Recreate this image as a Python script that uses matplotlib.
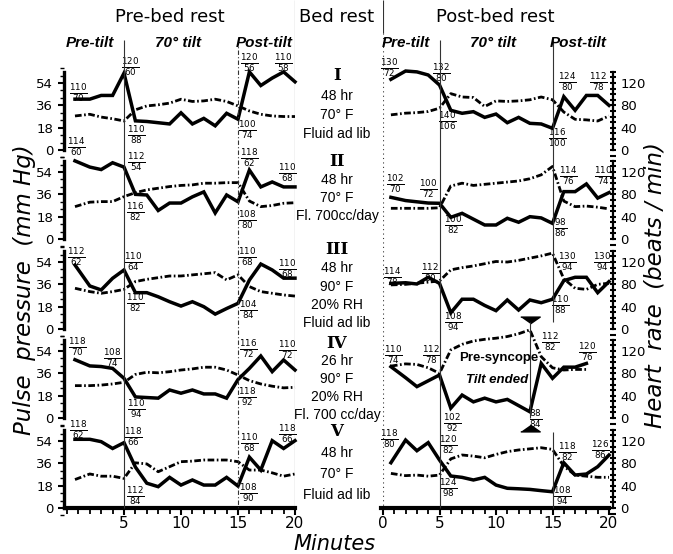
import numpy as np
import matplotlib
matplotlib.use("Agg")
import matplotlib.pyplot as plt
from matplotlib.ticker import MultipleLocator, FixedLocator

# ---- data ----
minutes = [0.7] + list(range(2, 21))
minutes_syncope = minutes[:18]          # run IV post-bed rest: tilt ended at 13 min

numerals = ["I", "II", "III", "IV", "V"]
conditions = [
    ["48 hr", "70° F", "Fluid ad lib"],
    ["48 hr", "70° F", "Fl. 700cc/day"],
    ["48 hr", "90° F", "20% RH", "Fluid ad lib"],
    ["26 hr", "90° F", "20% RH", "Fl. 700 cc/day"],
    ["48 hr", "70° F", "Fluid ad lib"],
]

# pulse pressure (mm Hg), pre-bed rest
pp_pre_1 = [41, 41, 44, 44, 62, 23.5, 23, 22, 21, 30, 21, 25.5, 19.5, 29.6, 24.8, 63, 52, 58, 63, 55]
pp_pre_2 = [63, 58, 56, 61.5, 58, 36, 35.5, 23, 29, 29, 34, 38, 21, 35.5, 30, 55.6, 42, 46, 42, 42]
pp_pre_3 = [51.6, 34.7, 31.5, 40.9, 47.6, 29.3, 29.3, 26, 22, 18.5, 22, 18, 12, 16.5, 20.7, 39.5, 52.4, 47.6, 41, 41]
pp_pre_4 = [47, 42, 41.5, 40, 32, 17, 16.5, 16, 22.6, 20, 22.6, 19.4, 19.4, 16, 31, 40, 50, 37.4, 46.8, 38.7]
pp_pre_5 = [55.4, 55.4, 53.5, 48, 52.7, 33, 20, 17.2, 24.7, 18.5, 22.6, 18.5, 18.5, 24.7, 17.7, 41, 30.6, 54.3, 48, 54.3]

# heart rate (beats/min), pre-bed rest
hr_pre_1 = [61, 64, 59, 56, 52, 72, 79, 81, 84, 91, 87, 88, 91, 87, 79, 70, 64, 61, 60, 60]
hr_pre_2 = [58, 66, 67, 67, 76, 83, 88, 91, 94, 96, 97, 100, 100, 101, 101, 68, 58, 60, 64, 65]
hr_pre_3 = [73, 67, 64, 67, 71, 85, 89, 92, 95, 95, 97, 99, 101, 88, 97, 76, 67, 64, 61, 59]
hr_pre_4 = [58, 58, 59, 61, 64, 78, 82, 81, 83, 86, 88, 91, 91, 86, 77, 67, 61, 57, 54, 55]
hr_pre_5 = [51, 61, 57, 57, 53, 81, 79, 65, 74, 83, 84, 86, 86, 86, 83, 68, 68, 63, 57, 61]

# pulse pressure, post-bed rest
pp_post_1 = [57, 63.7, 63, 60.5, 52.4, 32, 29.6, 30.9, 26.3, 29, 22, 26.3, 21.5, 21, 17.5, 43, 32, 44, 44, 36]
pp_post_2 = [33.6, 31, 30, 29, 28.8, 17.5, 20.7, 16, 11.3, 11.3, 16.7, 13.5, 18, 17, 12.6, 38.2, 38.2, 44.4, 33, 37.4]
pp_post_3 = [36.8, 37.3, 36.3, 41.7, 36.8, 13.1, 24, 24, 19, 14.8, 23.4, 15.3, 23.4, 21.2, 24, 39, 41.7, 41.7, 29.3, 38.2]
pp_post_4 = [41.4, 32.5, 25.3, 30, 34.7, 8, 18.5, 13, 16, 13, 15, 10, 5, 44, 32, 41, 41, 44]
pp_post_5 = [36.5, 54.8, 46.2, 52.7, 38.7, 25.8, 24.7, 22.6, 24.7, 18.5, 15.9, 15.5, 15, 14, 13.1, 36.5, 26.6, 27.4, 33.3, 42.7]

# heart rate, post-bed rest
hr_post_1 = [63, 66, 67, 69, 75, 101, 95, 94, 78, 88, 87, 88, 90, 95, 90, 68, 55, 54, 52, 61]
hr_post_2 = [55, 55, 55, 55, 56, 95, 100, 96, 98, 100, 102, 104, 108, 115, 130, 68, 58, 59, 57, 54]
hr_post_3 = [79, 80, 82, 84, 86, 106, 110, 113, 117, 121, 120, 123, 127, 131, 136, 90, 73, 71, 80, 82]
hr_post_4 = [93, 97, 96, 90, 80, 122, 132, 138, 141, 143, 146, 151, 158, 110, 90, 86, 87, 87]
hr_post_5 = [62, 58, 59, 57, 59, 88, 95, 93, 90, 96, 101, 104, 106, 108, 105, 75, 59, 57, 55, 55]

pp_pre = [pp_pre_1, pp_pre_2, pp_pre_3, pp_pre_4, pp_pre_5]
hr_pre = [hr_pre_1, hr_pre_2, hr_pre_3, hr_pre_4, hr_pre_5]
pp_post = [pp_post_1, pp_post_2, pp_post_3, pp_post_4, pp_post_5]
hr_post = [hr_post_1, hr_post_2, hr_post_3, hr_post_4, hr_post_5]

# blood pressure notes (minute, height in mm Hg units, systolic, diastolic)
bp_pre = [
    [(1.0, 46, 110, 70), (5.6, 67, 120, 60), (6.1, 12, 110, 88), (16.0, 70, 120, 56), (19.0, 70, 110, 58), (15.8, 16, 100, 74)],
    [(0.8, 74, 114, 60), (6.1, 62, 112, 54), (6.0, 22, 116, 82), (16.0, 65, 118, 62), (19.3, 53, 110, 68), (15.8, 15, 108, 80)],
    [(0.8, 58, 112, 62), (5.8, 54, 110, 64), (6.0, 21, 110, 82), (15.8, 58, 110, 68), (19.3, 48, 110, 68), (15.9, 15, 104, 84)],
    [(0.9, 57, 118, 70), (4.0, 48, 108, 74), (6.1, 7, 110, 94), (15.9, 56, 116, 72), (19.3, 55, 110, 72), (15.8, 17, 118, 92)],
    [(1.0, 63, 118, 62), (5.8, 57, 118, 66), (6.0, 10, 112, 84), (16.0, 52, 110, 68), (19.3, 60, 118, 66), (15.9, 12, 108, 90)],
]
bp_post = [
    [(0.6, 66, 130, 72), (5.2, 62, 132, 80), (5.7, 23, 140, 106), (16.3, 55, 124, 80), (19.1, 55, 112, 78), (15.4, 10, 116, 100)],
    [(1.1, 44, 102, 70), (4.0, 40, 100, 72), (6.2, 11, 100, 82), (16.4, 51, 114, 76), (19.5, 51, 110, 74), (15.7, 9, 98, 86)],
    [(0.8, 42, 114, 78), (4.2, 45, 112, 80), (6.2, 6, 108, 94), (16.3, 54, 130, 94), (19.4, 54, 130, 94), (15.7, 19, 110, 88)],
    [(0.9, 51, 110, 74), (4.3, 51, 112, 78), (6.1, -4, 102, 92), (14.8, 61, 112, 82), (18.1, 53, 120, 76), (13.5, -1, 88, 84)],
    [(0.6, 56, 118, 80), (5.8, 51, 120, 82), (5.8, 16, 124, 98), (16.3, 45, 118, 82), (19.2, 47, 126, 86), (15.9, 10, 108, 94)],
]

# ---- layout ----
W, H = 673, 554
fig = plt.figure(figsize=(W / 100, H / 100), dpi=100)
NARROW = ["Liberation Sans", "DejaVu Sans"]
K = 54 / 120                  # heart-rate scale -> pulse-pressure scale
zero_px = [150, 239, 329, 418, 508]
PXU = 1.24
YLO, YHI = -6, 66.2
LEFT_X = (67, 295)
RIGHT_X = (383, 609)
dashdot = (0, (2.4, 0.9, 0.6, 0.9))


def panel(xs, row):
    z = zero_px[row]
    top, bot = z - YHI * PXU, z - YLO * PXU
    ax = fig.add_axes([xs[0] / W, 1 - bot / H, (xs[1] - xs[0]) / W, (bot - top) / H])
    ax.set_xlim(0, 20)
    ax.set_ylim(YLO, YHI)
    ax.patch.set_visible(False)
    for s in ["top", "right", "left", "bottom"]:
        ax.spines[s].set_visible(False)
    ax.set_yticks([])
    ax.set_xticks([])
    return ax


def bottom_axis(ax, labels):
    ax.spines["bottom"].set_visible(True)
    ax.spines["bottom"].set_position(("data", 0))
    ax.spines["bottom"].set_linewidth(3)
    ax.spines["bottom"].set_bounds(-0.15, 20)
    ax.xaxis.set_major_locator(FixedLocator(labels))
    ax.xaxis.set_minor_locator(MultipleLocator(1))
    ax.tick_params(axis="x", which="major", length=5, width=1.5, labelsize=11, pad=1)
    ax.tick_params(axis="x", which="minor", length=4, width=1.3)


def draw(ax, t, pp, hr, notes):
    ax.plot(t, np.array(hr) * K, color="k", lw=2.0, ls=dashdot, clip_on=False, zorder=2)
    ax.plot(t, pp, color="k", lw=2.5, clip_on=False, zorder=3, solid_joinstyle="miter")
    for (x, y, s, d) in notes:
        ax.text(x, y, r"$\frac{%d}{%d}$" % (s, d), ha="center", va="center",
                fontsize=9, clip_on=False)


for r in range(5):
    axl = panel(LEFT_X, r)
    draw(axl, minutes, pp_pre[r], hr_pre[r], bp_pre[r])
    axl.spines["left"].set_visible(True)
    axl.spines["left"].set_position(("outward", 2))
    axl.spines["left"].set_bounds(0, 63)
    axl.spines["left"].set_linewidth(2.4)
    axl.set_yticks([0, 18, 36, 54])
    axl.yaxis.set_minor_locator(MultipleLocator(6))
    axl.tick_params(axis="y", which="major", length=4, width=1.5, labelsize=9.5, pad=4)
    axl.tick_params(axis="y", which="minor", length=3, width=1.0)

    axr = panel(RIGHT_X, r)
    t = minutes_syncope if r == 3 else minutes
    draw(axr, t, pp_post[r], hr_post[r], bp_post[r])
    tw = axr.twinx()
    tw.set_ylim(YLO / K, YHI / K)
    for s in ["top", "left", "bottom"]:
        tw.spines[s].set_visible(False)
    tw.spines["right"].set_position(("outward", 3))
    tw.spines["right"].set_bounds(0, 140)
    tw.spines["right"].set_linewidth(1.6)
    tw.set_yticks([0, 40, 80, 120])
    tw.yaxis.set_minor_locator(MultipleLocator(10))
    tw.tick_params(axis="y", which="major", length=4, width=1.5, labelsize=9.5, pad=3, direction="inout")
    tw.tick_params(axis="y", which="minor", length=4, width=1.5, direction="inout")

    if r == 3:
        axr.plot([13], [79], marker=[(-1, 0.35), (1, 0.35), (0, -0.35)], ms=14, color="k", clip_on=False)
        axr.plot([13], [-8], marker=[(-1, -0.35), (1, -0.35), (0, 0.35)], ms=14, color="k", clip_on=False)
        axr.text(10.2, 48, "Pre-syncope", ha="center", va="center", fontsize=9.5,
                 family=NARROW, weight="bold")
        axr.text(10.1, 31, "Tilt ended", ha="center", va="center", fontsize=9.5,
                 family=NARROW, style="italic", weight="bold")
    if r == 4:
        bottom_axis(axl, [5, 10, 15, 20])
        bottom_axis(axr, [0, 5, 10, 15, 20])

# column axes for the phase lines and headings (y in pixels from top)
colL = fig.add_axes([LEFT_X[0] / W, 0, (LEFT_X[1] - LEFT_X[0]) / W, 1])
colR = fig.add_axes([RIGHT_X[0] / W, 0, (RIGHT_X[1] - RIGHT_X[0]) / W, 1])
for c in (colL, colR):
    c.set_xlim(0, 20)
    c.set_ylim(H, 0)
    c.axis("off")

thin = dict(color="#333333", lw=0.8)
colL.vlines(5, 40, 508, **thin)
colL.vlines(15, 40, 508, linestyles=(0, (4, 2, 1, 2)), **thin)
colL.vlines(20, 0, 508, **thin)
colR.vlines(0, 0, 33, **thin)
colR.vlines(0, 33, 508, linestyles=(0, (1, 3)), **thin)
colR.vlines(5, 40, 508, **thin)
colR.vlines(15, 40, 322, **thin)
colR.vlines(13, 322, 418, **thin)
colR.vlines(15, 432, 508, **thin)

for c in (colL, colR):
    c.text(2.0, 43, "Pre-tilt", ha="center", va="center", fontsize=11,
           family=NARROW, style="italic", weight="bold")
    c.text(9.7, 43, "70° tilt", ha="center", va="center", fontsize=11,
           family=NARROW, style="italic", weight="bold")
    c.text(17.3, 43, "Post-tilt", ha="center", va="center", fontsize=11,
           family=NARROW, style="italic", weight="bold")

# overlay for titles, labels and run conditions
bg = fig.add_axes([0, 0, 1, 1])
bg.set_xlim(0, W)
bg.set_ylim(H, 0)
bg.axis("off")
bg.text(170, 17, "Pre-bed rest", ha="center", va="center", fontsize=13)
bg.text(337, 17, "Bed rest", ha="center", va="center", fontsize=13)
bg.text(495, 17, "Post-bed rest", ha="center", va="center", fontsize=13)
bg.text(25, 290, "Pulse  pressure  (mm Hg)", rotation=90, ha="center", va="center",
        fontsize=16.5, style="italic")
bg.text(655, 285, "Heart  rate  (beats / min)", rotation=90, ha="center", va="center",
        fontsize=16.5, style="italic")
bg.text(335, 544, "Minutes", ha="center", va="center", fontsize=15, style="italic")

block_top = [76, 162, 250, 343, 432]
block_step = [19.5, 18, 18.3, 18, 21]
for r in range(5):
    bg.text(337, block_top[r], numerals[r], ha="center", va="center", fontsize=12,
            family="DejaVu Serif", weight="bold")
    for i, line in enumerate(conditions[r]):
        bg.text(337, block_top[r] + (i + 1) * block_step[r], line, ha="center",
                va="center", fontsize=10, family=NARROW)

fig.savefig("out.png", dpi=100)
